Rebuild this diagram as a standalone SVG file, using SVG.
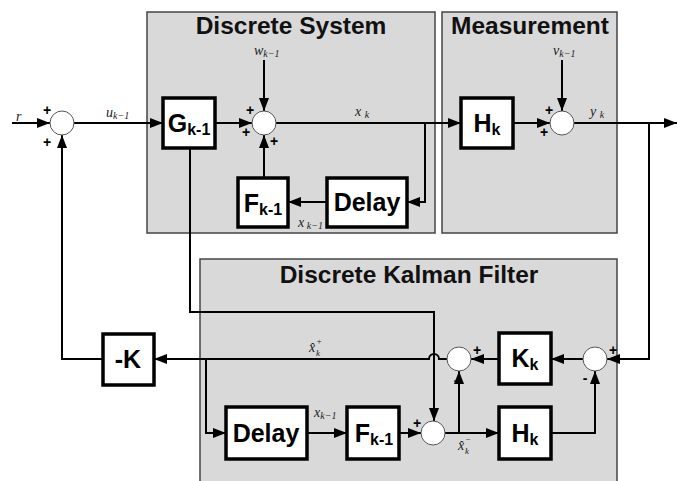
<svg xmlns="http://www.w3.org/2000/svg" width="677" height="481" viewBox="0 0 677 481">
<style>
.panel{fill:#d9d9d9;stroke:#444;stroke-width:1.5}
.title{font-family:"Liberation Sans",Arial,sans-serif;font-weight:bold;font-size:24.5px;fill:#111;text-anchor:middle}
.box{fill:#fff;stroke:#000;stroke-width:3.5}
.bl{font-family:"Liberation Sans",Arial,sans-serif;font-weight:bold;font-size:25px;fill:#000;text-anchor:middle}
.sub{font-size:16px}
.sum{fill:#fff;stroke:#555;stroke-width:1}
.wire{fill:none;stroke:#000;stroke-width:2}
.sg{font-family:"Liberation Sans",Arial,sans-serif;font-weight:bold;font-size:14px;fill:#000;text-anchor:middle}
.m{font-family:"Liberation Serif","Times New Roman",serif;font-style:italic;font-size:14px;fill:#222}
.ms{font-size:10px}
.mt{font-family:"Liberation Serif","Times New Roman",serif;font-style:italic;font-size:9px;fill:#222}
</style>
<defs>
<marker id="ah" markerUnits="userSpaceOnUse" markerWidth="13" markerHeight="10" refX="13" refY="5" orient="auto">
<path d="M0,0 L13,5 L0,10 z" fill="#000"/>
</marker>
</defs>

<g id="panel-system"><rect class="panel" x="147" y="12" width="288" height="221"/><text class="title" x="291" y="34">Discrete System</text></g>
<g id="panel-measurement"><rect class="panel" x="442" y="12" width="175" height="221"/><text class="title" x="530" y="34">Measurement</text></g>
<g id="panel-kalman"><rect class="panel" x="200" y="259" width="417" height="230"/><text class="title" x="409" y="283">Discrete Kalman Filter</text></g>

<g id="connectors">
<path class="wire" d="M12,123 L50,123" marker-end="url(#ah)"/>
<path class="wire" d="M74,123 L163,123" marker-end="url(#ah)"/>
<path class="wire" d="M215,123 L252,123" marker-end="url(#ah)"/>
<path class="wire" d="M264,60 L264,111" marker-end="url(#ah)"/>
<path class="wire" d="M276,123 L461,123" marker-end="url(#ah)"/>
<path class="wire" d="M425,123 L425,202 L407,202" marker-end="url(#ah)"/>
<path class="wire" d="M327,202 L288,202" marker-end="url(#ah)"/>
<path class="wire" d="M264,178 L264,135" marker-end="url(#ah)"/>
<path class="wire" d="M562,60 L562,111" marker-end="url(#ah)"/>
<path class="wire" d="M513,123 L550,123" marker-end="url(#ah)"/>
<path class="wire" d="M574,123 L677,123" marker-end="url(#ah)"/>
<path class="wire" d="M649,123 L649,359 L607,359" marker-end="url(#ah)"/>
<path class="wire" d="M583,359 L551,359" marker-end="url(#ah)"/>
<path class="wire" d="M499,359 L471,359" marker-end="url(#ah)"/>
<path class="wire" d="M447,359 L439,359 A5,5 0 0 0 429,359 L154,359" marker-end="url(#ah)"/>
<path class="wire" d="M103,359 L62,359 L62,135" marker-end="url(#ah)"/>
<path class="wire" d="M206,359 L206,433 L226,433" marker-end="url(#ah)"/>
<path class="wire" d="M307,433 L347,433" marker-end="url(#ah)"/>
<path class="wire" d="M399,433 L421,433" marker-end="url(#ah)"/>
<path class="wire" d="M190,148 L190,312 L434,312 L434,421" marker-end="url(#ah)"/>
<path class="wire" d="M445,433 L499,433" marker-end="url(#ah)"/>
<path class="wire" d="M459,433 L459,371" marker-end="url(#ah)"/>
<path class="wire" d="M551,433 L595,433 L595,371" marker-end="url(#ah)"/>
</g>

<g id="sum1"><circle class="sum" cx="62" cy="123" r="12"/><text class="sg" x="47" y="115">+</text><text class="sg" x="47" y="147">+</text></g>
<g id="sum2"><circle class="sum" cx="264" cy="123" r="12"/><text class="sg" x="250" y="115">+</text><text class="sg" x="246" y="137">+</text><text class="sg" x="274" y="146">+</text></g>
<g id="sum3"><circle class="sum" cx="562" cy="123" r="12"/><text class="sg" x="549" y="115">+</text><text class="sg" x="544" y="137">+</text></g>
<g id="sum-update"><circle class="sum" cx="459" cy="359" r="12"/><text class="sg" x="477" y="355">+</text><text class="sg" x="456" y="385">-</text></g>
<g id="sum-innov"><circle class="sum" cx="595" cy="359" r="12"/><text class="sg" x="613" y="355">+</text><text class="sg" x="585" y="383">-</text></g>
<g id="sum-pred"><circle class="sum" cx="433" cy="433" r="12"/><text class="sg" x="417" y="428">+</text></g>

<g id="G"><rect class="box" x="163" y="98" width="52" height="50"/><text class="bl" x="189" y="132">G<tspan class="sub" dy="3">k-1</tspan></text></g>
<g id="F-sys"><rect class="box" x="238" y="178" width="50" height="49"/><text class="bl" x="263" y="212">F<tspan class="sub" dy="3">k-1</tspan></text></g>
<g id="Delay-sys"><rect class="box" x="327" y="178" width="80" height="49"/><text class="bl" x="367" y="211">Delay</text></g>
<g id="H-meas"><rect class="box" x="461" y="98" width="52" height="50"/><text class="bl" x="487" y="132">H<tspan class="sub" dy="3">k</tspan></text></g>
<g id="K"><rect class="box" x="103" y="334" width="51" height="51"/><text class="bl" x="128" y="368">-K</text></g>
<g id="Kk"><rect class="box" x="499" y="333" width="52" height="51"/><text class="bl" x="525" y="367">K<tspan class="sub" dy="3">k</tspan></text></g>
<g id="H-kf"><rect class="box" x="499" y="407" width="52" height="52"/><text class="bl" x="525" y="442">H<tspan class="sub" dy="3">k</tspan></text></g>
<g id="Delay-kf"><rect class="box" x="226" y="407" width="81" height="52"/><text class="bl" x="266" y="442">Delay</text></g>
<g id="F-kf"><rect class="box" x="347" y="407" width="52" height="52"/><text class="bl" x="374" y="442">F<tspan class="sub" dy="3">k-1</tspan></text></g>

<g id="labels">
<text class="m" x="16" y="121" font-size="17">r</text>
<text class="m" x="106" y="117">u<tspan class="ms" dy="2">k−1</tspan></text>
<text class="m" x="254" y="55">w<tspan class="ms" dy="2">k−1</tspan></text>
<text class="m" x="355" y="116">x <tspan class="ms" dy="2">k</tspan></text>
<text class="m" x="298" y="227">x<tspan class="ms" dy="2"> k−1</tspan></text>
<text class="m" x="553" y="55">v<tspan class="ms" dy="2">k−1</tspan></text>
<text class="m" x="590" y="116">y <tspan class="ms" dy="2">k</tspan></text>
<text class="m" x="309" y="352">x̂</text><text class="mt" x="316" y="344">+</text><text class="mt" x="316" y="356">k</text>
<text class="m" x="314" y="417">x<tspan class="ms" dy="2">k−1</tspan></text>
<text class="m" x="458" y="450">x̂</text><text class="mt" x="465" y="442">−</text><text class="mt" x="465" y="454">k</text>
</g>
</svg>
